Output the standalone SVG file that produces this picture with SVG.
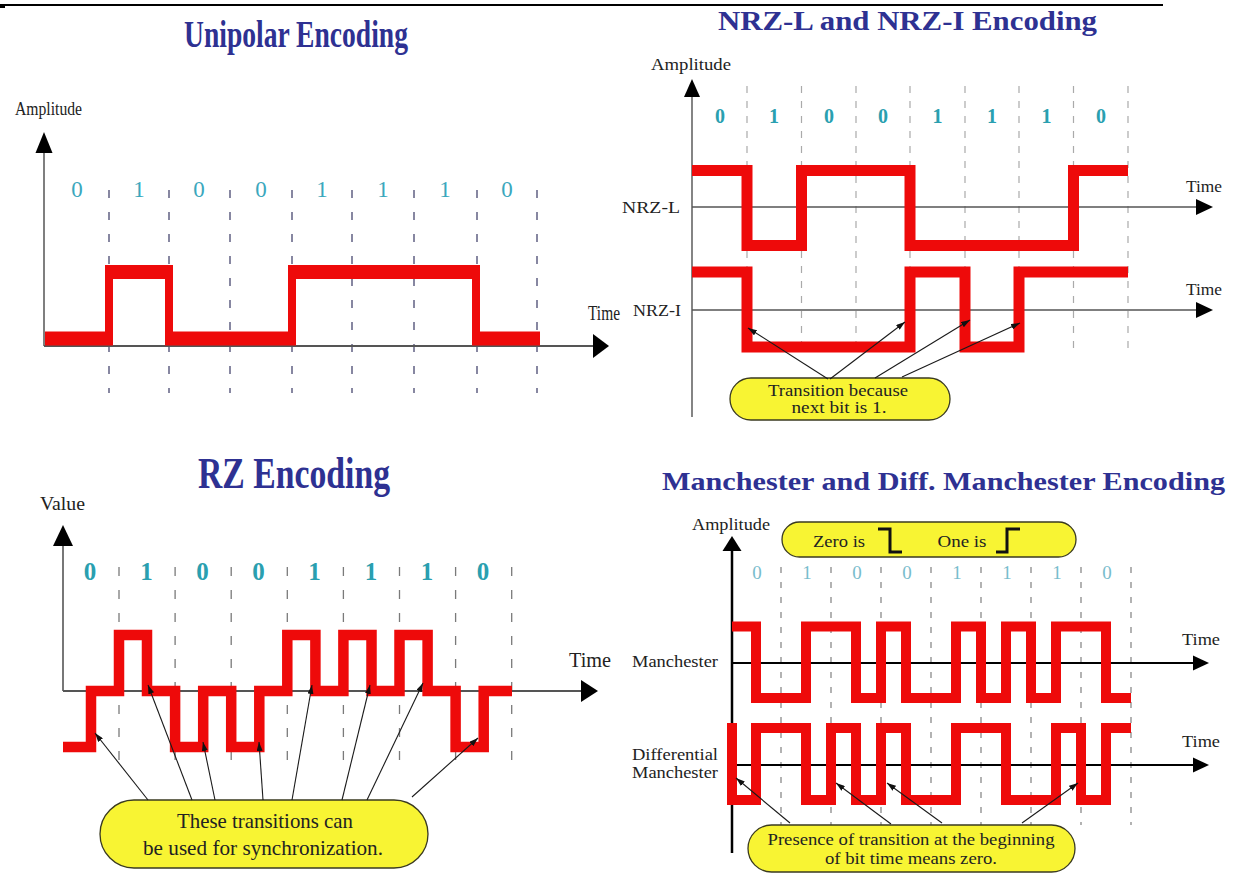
<svg xmlns="http://www.w3.org/2000/svg" width="1238" height="874" viewBox="0 0 1238 874">
<defs>
<style>
.title{font-family:"Liberation Serif","Times New Roman",serif;font-weight:bold;fill:#2e3192;text-anchor:middle}
.lbl{font-family:"Liberation Serif","Times New Roman",serif;fill:#222}
.bitU{font-family:"Liberation Serif",serif;font-size:23px;fill:#3ba7bd;text-anchor:middle}
.bitN{font-family:"Liberation Serif",serif;font-size:20px;font-weight:bold;fill:#2a9fb0;text-anchor:middle}
.bitR{font-family:"Liberation Serif",serif;font-size:25px;font-weight:bold;fill:#2a9fb0;text-anchor:middle}
.bitM{font-family:"Liberation Serif",serif;font-size:19px;fill:#78bccc;text-anchor:middle}
.sig{fill:none;stroke:#ee0a0a;stroke-linejoin:miter;stroke-linecap:butt}
.box{fill:#f8f433;stroke:#3a3a20;stroke-width:1.3}
.btxt{font-family:"Liberation Serif","Times New Roman",serif;fill:#222;text-anchor:middle}
.conn line{stroke:#1a1a1a;stroke-width:1.1;marker-end:url(#ah)}
.divU{stroke:#55557a;stroke-width:1.4;stroke-dasharray:8 14}
.divN{stroke:#aaaaaa;stroke-width:1.2;stroke-dasharray:7 8}
.divR{stroke:#7a7a7a;stroke-width:1.3;stroke-dasharray:9 14}
.divM{stroke:#8a8a8a;stroke-width:1.3;stroke-dasharray:6 9}
</style>
<marker id="ah" viewBox="0 0 9 6" refX="9" refY="3" markerWidth="9" markerHeight="6" markerUnits="userSpaceOnUse" orient="auto">
<path d="M0,0 L9,3 L0,6 z" fill="#111"/>
</marker>
</defs>
<rect width="1238" height="874" fill="#ffffff"/>
<g id="rule">
<line x1="0" y1="5" x2="1163" y2="5" stroke="#000" stroke-width="2"/>
<rect x="0" y="4" width="5" height="4" fill="#000"/>
</g>

<g id="unipolar">
<text class="title" x="296" y="47" font-size="38" textLength="224" lengthAdjust="spacingAndGlyphs">Unipolar Encoding</text>
<text class="lbl" x="15" y="115" font-size="19" textLength="67" lengthAdjust="spacingAndGlyphs">Amplitude</text>
<g>
<line class="divU" x1="109" y1="190" x2="109" y2="393"/>
<line class="divU" x1="169" y1="190" x2="169" y2="393"/>
<line class="divU" x1="230" y1="190" x2="230" y2="393"/>
<line class="divU" x1="292" y1="190" x2="292" y2="393"/>
<line class="divU" x1="352" y1="190" x2="352" y2="393"/>
<line class="divU" x1="414" y1="190" x2="414" y2="393"/>
<line class="divU" x1="477" y1="190" x2="477" y2="393"/>
<line class="divU" x1="537" y1="190" x2="537" y2="393"/>
</g>
<line x1="44" y1="150" x2="44" y2="346" stroke="#555" stroke-width="1.5"/>
<polygon points="44,132 35.5,153 52.5,153" fill="#000"/>
<line x1="44" y1="346" x2="595" y2="346" stroke="#555" stroke-width="1.8"/>
<polygon points="609,346 593,334 593,358" fill="#000"/>
<text class="lbl" x="588" y="320" font-size="20" textLength="32" lengthAdjust="spacingAndGlyphs">Time</text>
<text class="bitU" x="77" y="197">0</text>
<text class="bitU" x="139" y="197">1</text>
<text class="bitU" x="199" y="197">0</text>
<text class="bitU" x="261" y="197">0</text>
<text class="bitU" x="322" y="197">1</text>
<text class="bitU" x="383" y="197">1</text>
<text class="bitU" x="445" y="197">1</text>
<text class="bitU" x="507" y="197">0</text>
<g transform="translate(0,346) scale(1,1.75)">
<path class="sig" stroke-width="8" d="M45,-4.3 H109 V-42.3 H169 V-4.3 H292 V-42.3 H476 V-4.3 H540"/>
</g>
</g>

<g id="nrz">
<text class="title" x="907.5" y="30" font-size="27" textLength="379" lengthAdjust="spacingAndGlyphs">NRZ-L and NRZ-I Encoding</text>
<text class="lbl" x="651" y="70" font-size="16" textLength="80" lengthAdjust="spacingAndGlyphs">Amplitude</text>
<g>
<line class="divN" x1="747" y1="86" x2="747" y2="356"/>
<line class="divN" x1="801.5" y1="86" x2="801.5" y2="356"/>
<line class="divN" x1="856" y1="86" x2="856" y2="356"/>
<line class="divN" x1="910" y1="86" x2="910" y2="356"/>
<line class="divN" x1="965" y1="86" x2="965" y2="356"/>
<line class="divN" x1="1019" y1="86" x2="1019" y2="356"/>
<line class="divN" x1="1073.5" y1="86" x2="1073.5" y2="356"/>
<line class="divN" x1="1128" y1="86" x2="1128" y2="356"/>
</g>
<line x1="692" y1="94" x2="692" y2="417" stroke="#666" stroke-width="1.6"/>
<polygon points="692,79 684,97 700,97" fill="#000"/>
<line x1="692" y1="207" x2="1198" y2="207" stroke="#555" stroke-width="1.5"/>
<polygon points="1213,207 1196,199 1196,215" fill="#000"/>
<line x1="692" y1="310" x2="1198" y2="310" stroke="#555" stroke-width="1.5"/>
<polygon points="1213,310 1196,302 1196,318" fill="#000"/>
<text class="lbl" x="1186" y="192" font-size="16" textLength="36" lengthAdjust="spacingAndGlyphs">Time</text>
<text class="lbl" x="1186" y="295" font-size="16" textLength="36" lengthAdjust="spacingAndGlyphs">Time</text>
<text class="lbl" x="622" y="213" font-size="17" textLength="58" lengthAdjust="spacingAndGlyphs">NRZ-L</text>
<text class="lbl" x="633" y="316" font-size="17" textLength="48" lengthAdjust="spacingAndGlyphs">NRZ-I</text>
<text class="bitN" x="720" y="123">0</text>
<text class="bitN" x="774" y="123">1</text>
<text class="bitN" x="829" y="123">0</text>
<text class="bitN" x="883" y="123">0</text>
<text class="bitN" x="937.5" y="123">1</text>
<text class="bitN" x="992" y="123">1</text>
<text class="bitN" x="1046.5" y="123">1</text>
<text class="bitN" x="1101" y="123">0</text>
<path class="sig" stroke-width="11" d="M692,170.5 H747 V245.5 H801.5 V170.5 H910 V245.5 H1073.5 V170.5 H1128"/>
<path class="sig" stroke-width="11" d="M692,272 H747 V347 H910 V272 H965 V347 H1019 V272 H1128"/>
</g>

<g id="nrz-callout">
<rect class="box" x="730" y="378" width="220" height="42" rx="21"/>
<text class="btxt" x="838" y="396" font-size="16" textLength="140" lengthAdjust="spacingAndGlyphs">Transition because</text>
<text class="btxt" x="839" y="413" font-size="16" textLength="95" lengthAdjust="spacingAndGlyphs">next bit is 1.</text>
</g>

<g id="rz">
<text class="title" x="294" y="488" font-size="44" textLength="192" lengthAdjust="spacingAndGlyphs">RZ Encoding</text>
<text class="lbl" x="40" y="510" font-size="19" textLength="45" lengthAdjust="spacingAndGlyphs">Value</text>
<g>
<line class="divR" x1="119" y1="567" x2="119" y2="772"/>
<line class="divR" x1="175.1" y1="567" x2="175.1" y2="772"/>
<line class="divR" x1="231.2" y1="567" x2="231.2" y2="772"/>
<line class="divR" x1="287.3" y1="567" x2="287.3" y2="772"/>
<line class="divR" x1="343.4" y1="567" x2="343.4" y2="772"/>
<line class="divR" x1="399.5" y1="567" x2="399.5" y2="772"/>
<line class="divR" x1="455.6" y1="567" x2="455.6" y2="772"/>
<line class="divR" x1="511.7" y1="567" x2="511.7" y2="772"/>
</g>
<line x1="63" y1="543" x2="63" y2="691" stroke="#555" stroke-width="1.6"/>
<polygon points="63,525 53,546 73,546" fill="#000"/>
<line x1="63" y1="691" x2="583" y2="691" stroke="#555" stroke-width="1.8"/>
<polygon points="598,691 581,680 581,702" fill="#000"/>
<text class="lbl" x="569" y="667" font-size="21" textLength="42" lengthAdjust="spacingAndGlyphs">Time</text>
<text class="bitR" x="90" y="580">0</text>
<text class="bitR" x="146.5" y="580">1</text>
<text class="bitR" x="202.5" y="580">0</text>
<text class="bitR" x="258.5" y="580">0</text>
<text class="bitR" x="314.5" y="580">1</text>
<text class="bitR" x="371" y="580">1</text>
<text class="bitR" x="427" y="580">1</text>
<text class="bitR" x="483" y="580">0</text>
<path class="sig" stroke-width="10.5" d="M63,747 H91 V691 H119 V635 H147 V691 H175.1 V747 H203.2 V691 H231.2 V747 H259.3 V691 H287.3 V635 H315.4 V691 H343.4 V635 H371.5 V691 H399.5 V635 H427.6 V691 H455.6 V747 H483.7 V691 H512"/>
</g>

<g id="rz-callout">
<rect class="box" x="100" y="800" width="328" height="68" rx="34"/>
<text class="btxt" x="265" y="828" font-size="22" textLength="176" lengthAdjust="spacingAndGlyphs">These transitions can</text>
<text class="btxt" x="263" y="855" font-size="22" textLength="240" lengthAdjust="spacingAndGlyphs">be used for synchronization.</text>
</g>

<g id="manchester">
<text class="title" x="943.5" y="490" font-size="26" textLength="563" lengthAdjust="spacingAndGlyphs">Manchester and Diff. Manchester Encoding</text>
<text class="lbl" x="692" y="530" font-size="16" textLength="78" lengthAdjust="spacingAndGlyphs">Amplitude</text>
<g>
<line class="divM" x1="781" y1="567" x2="781" y2="825"/>
<line class="divM" x1="831" y1="567" x2="831" y2="825"/>
<line class="divM" x1="881" y1="567" x2="881" y2="825"/>
<line class="divM" x1="931" y1="567" x2="931" y2="825"/>
<line class="divM" x1="981" y1="567" x2="981" y2="825"/>
<line class="divM" x1="1031" y1="567" x2="1031" y2="825"/>
<line class="divM" x1="1081" y1="567" x2="1081" y2="825"/>
<line class="divM" x1="1131" y1="567" x2="1131" y2="825"/>
</g>
<line x1="732" y1="548" x2="732" y2="853" stroke="#000" stroke-width="2.5"/>
<polygon points="732,536 722.5,551 741.5,551" fill="#000"/>
<line x1="732" y1="663" x2="1195" y2="663" stroke="#000" stroke-width="2"/>
<polygon points="1209,663 1193,655.5 1193,670.5" fill="#000"/>
<line x1="732" y1="765" x2="1195" y2="765" stroke="#000" stroke-width="2"/>
<polygon points="1209,765 1193,757.5 1193,772.5" fill="#000"/>
<text class="lbl" x="1182" y="645" font-size="16" textLength="38" lengthAdjust="spacingAndGlyphs">Time</text>
<text class="lbl" x="1182" y="747" font-size="16" textLength="38" lengthAdjust="spacingAndGlyphs">Time</text>
<text class="lbl" x="632" y="667" font-size="16" textLength="86" lengthAdjust="spacingAndGlyphs">Manchester</text>
<text class="lbl" x="632" y="760" font-size="16" textLength="86" lengthAdjust="spacingAndGlyphs">Differential</text>
<text class="lbl" x="632" y="778" font-size="16" textLength="86" lengthAdjust="spacingAndGlyphs">Manchester</text>
<text class="bitM" x="757" y="579">0</text>
<text class="bitM" x="807" y="579">1</text>
<text class="bitM" x="857" y="579">0</text>
<text class="bitM" x="907" y="579">0</text>
<text class="bitM" x="957" y="579">1</text>
<text class="bitM" x="1007" y="579">1</text>
<text class="bitM" x="1057" y="579">1</text>
<text class="bitM" x="1107" y="579">0</text>
<path class="sig" stroke-width="10" d="M732,626.5 H756 V698 H806 V626.5 H856 V698 H881 V626.5 H906 V698 H956 V626.5 H981 V698 H1006 V626.5 H1031 V698 H1056 V626.5 H1106 V698 H1131"/>
<path class="sig" stroke-width="10" d="M732,723 V800 H756 V728 H806 V800 H831 V728 H856 V800 H881 V728 H906 V800 H956 V728 H1006 V800 H1056 V728 H1081 V800 H1106 V728 H1131"/>
</g>

<g id="legend-box">
<rect class="box" x="782" y="522" width="294" height="35" rx="17.5"/>
<text class="btxt" x="839" y="547" font-size="16" textLength="52" lengthAdjust="spacingAndGlyphs">Zero is</text>
<text class="btxt" x="962" y="547" font-size="16" textLength="49" lengthAdjust="spacingAndGlyphs">One is</text>
<path d="M878,529 H890 V552 H902" fill="none" stroke="#111" stroke-width="3"/>
<path d="M996,552 H1007 V529 H1020" fill="none" stroke="#111" stroke-width="3"/>
</g>

<g id="manchester-callout">
<rect class="box" x="748" y="825" width="327" height="47" rx="23.5"/>
<text class="btxt" x="911" y="845" font-size="16" textLength="287" lengthAdjust="spacingAndGlyphs">Presence of transition at the beginning</text>
<text class="btxt" x="911" y="864" font-size="16" textLength="172" lengthAdjust="spacingAndGlyphs">of bit time means zero.</text>
</g>

<g id="connectors" class="conn">
<line x1="828" y1="379" x2="748" y2="328"/>
<line x1="830" y1="379" x2="905" y2="322"/>
<line x1="875" y1="378" x2="970" y2="320"/>
<line x1="902" y1="377" x2="1020" y2="323"/>
<line x1="148" y1="800" x2="95" y2="733"/>
<line x1="192" y1="800" x2="148" y2="685"/>
<line x1="215" y1="800" x2="203" y2="742"/>
<line x1="263" y1="800" x2="259" y2="742"/>
<line x1="292" y1="800" x2="312" y2="685"/>
<line x1="342" y1="800" x2="370" y2="685"/>
<line x1="367" y1="800" x2="423" y2="683"/>
<line x1="412" y1="797" x2="478" y2="738"/>
<line x1="790" y1="823" x2="736" y2="778"/>
<line x1="891" y1="824" x2="836" y2="783"/>
<line x1="942" y1="823" x2="887" y2="783"/>
<line x1="1022" y1="823" x2="1078" y2="783"/>
</g>
</svg>
